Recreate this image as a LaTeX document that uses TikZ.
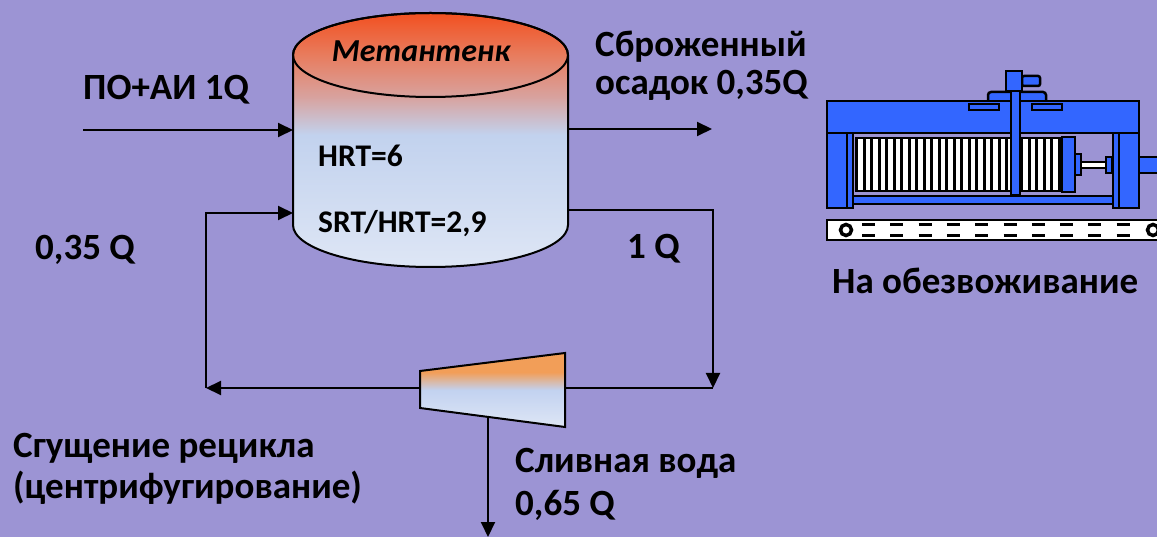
\documentclass[tikz,border=0pt]{standalone}
\usepackage{fontspec}
\setmainfont{Carlito}
\usetikzlibrary{arrows.meta}

\definecolor{bg}{RGB}{156,148,212}
\definecolor{pressblue}{RGB}{51,102,255}
\definecolor{tankA}{RGB}{242,80,32}
\definecolor{tankO}{RGB}{232,124,94}
\definecolor{tankP}{RGB}{216,162,158}
\definecolor{tankB}{RGB}{194,210,238}
\definecolor{tankC}{RGB}{222,230,245}
\definecolor{cenA}{RGB}{242,158,88}
\definecolor{cenB}{RGB}{194,210,240}
\definecolor{cenC}{RGB}{222,230,245}

% tank gradient: red-orange lid fading to pale blue body
\pgfdeclareverticalshading{tankshade}{100bp}{color(0bp)=(tankC); color(25bp)=(tankC); color(51bp)=(tankB); color(58.5bp)=(tankP); color(66.7bp)=(tankO); color(75bp)=(tankA); color(100bp)=(tankA)}
% centrifuge gradient: orange top, pale blue bottom
\pgfdeclareverticalshading{censhade}{100bp}{color(0bp)=(cenC); color(25bp)=(cenC); color(50bp)=(cenB); color(62bp)=(cenA); color(75bp)=(cenA); color(100bp)=(cenA)}

\tikzset{
  flow/.style={line width=2pt, -{Triangle[length=15pt,width=14pt]}},
  pipe/.style={line width=2pt},
  lbl/.style={font=\fontsize{37}{44}\selectfont\bfseries, inner sep=0pt, anchor=base west},
  tanktxt/.style={font=\fontsize{31.5}{36}\selectfont\bfseries, inner sep=0pt, anchor=base west},
  part/.style={fill=pressblue, draw=black, line width=2.5pt},
}

\begin{document}
\begin{tikzpicture}[x=1pt,y=-1pt]
\fill[bg] (0,0) rectangle (1157,537);
\useasboundingbox (0,0) rectangle (1157,537);

% ---------------- digester tank ----------------
\path[shading=tankshade, draw=black, line width=2pt]
  (293,55) -- (293,225) arc[start angle=180, end angle=0, x radius=137.5, y radius=42]
  -- (568,55) arc[start angle=0, end angle=-180, x radius=137.5, y radius=42] -- cycle;
\draw[line width=2pt] (430.5,55) ellipse[x radius=137.5, y radius=42];
\node[font=\fontsize{32}{36}\selectfont\bfseries\itshape, inner sep=0pt, anchor=base] (tankname) at (421,62) {Метантенк};
\node[tanktxt] (hrt) at (318,167) {HRT=6};
\node[tanktxt] (srt) at (318,233) {SRT/HRT=2,9};

\coordinate (tankFeed) at (293,130);
\coordinate (tankRet)  at (293,213);
\coordinate (tankOut)  at (568,129);
\coordinate (tankDraw) at (568,210);

% ---------------- centrifuge ----------------
\path[shading=censhade, draw=black, line width=2pt]
  (420,371) -- (565,353) -- (565,427) -- (420,408) -- cycle;
\coordinate (cenL) at (420,388);
\coordinate (cenR) at (565,388);
\coordinate (cenB) at (488,418);

% ---------------- flows ----------------
\coordinate (feedStart) at (83,130);
\coordinate (outEnd) at (712,129);
\coordinate (corner1) at (713,210);
\coordinate (corner2) at (713,388);
\coordinate (retCorner) at (206,388);
\coordinate (retTop) at (206,213);
\coordinate (drainEnd) at (488,537);

\draw[flow] (feedStart) -- (tankFeed);
\draw[flow] (tankOut) -- (outEnd);
\draw[flow] (tankDraw) -- (corner1) -- (corner2);
\draw[pipe] (cenR) -- (corner2);
\draw[flow] (cenL) -- (retCorner);
\draw[flow] (retCorner) -- (retTop) -- (tankRet);
\draw[flow] (cenB) -- (drainEnd);

% ---------------- labels ----------------
\node[lbl] (feed) at (83,100) {ПО+АИ 1Q};
\node[lbl] (dig1) at (595,57) {Сброженный};
\node[lbl] (dig2) at (595,95) {осадок 0,35Q};
\node[lbl] (recq) at (35,260) {0,35 Q};
\node[lbl] (oneq) at (627,259) {1 Q};
\node[lbl] (thick1) at (13,457) {Сгущение рецикла};
\node[lbl] (thick2) at (13,498) {(центрифугирование)};
\node[lbl] (drain1) at (515,472) {Сливная вода};
\node[lbl] (drain2) at (515,515) {0,65 Q};
\node[lbl] (dewater) at (832,294) {На обезвоживание};

% ---------------- filter press ----------------
% conveyor belt
\draw[fill=white, line width=2.5pt] (827,220) rectangle (1165,240);
\draw[line width=3.5pt] (846,230) circle[radius=5.5];
\draw[line width=3.5pt] (1153,230) circle[radius=5.5];
\foreach \i in {0,...,9}{
  \draw[line width=3pt] ({862+\i*28.3},224.5) -- ++(13,0);
  \draw[line width=3pt] ({862+\i*28.3},235.5) -- ++(13,0);
}
% bottom tie rail
\draw[part] (843,196) rectangle (1125,204);
% legs
\draw[part] (827,133) rectangle (847,208);
\draw[part] (847,133) rectangle (853,208);
\draw[part] (1119,133) rectangle (1139,208);
\draw[part] (1113,133) rectangle (1119,208);
% plate pack
\fill[black] (855,137) rectangle (1062,192);
\foreach \i in {0,...,26}{
  \fill[white] ({858+\i*7.5},139.5) rectangle ++(4.8,50.5);
}
\draw[part] (1062,137) rectangle (1075,192);
% hydraulic ram
\draw[part] (1075,154) rectangle (1081,175);
\draw[fill=white, line width=2pt] (1081,162) rectangle (1106,168);
\draw[part] (1106,157) rectangle (1112,173);
\draw[part] (1139,157) rectangle (1165,173);
% top beam and details
\draw[part, rounded corners=3pt] (988,104) -- (988,92) -- (1046,92) -- (1046,104);
\draw[part] (827,101) rectangle (1139,133);
\draw[part] (969,104) rectangle (999,110);
\draw[part] (1032,104) rectangle (1062,110);
\draw[part] (1011,91) rectangle (1020,195);
\draw[part, rounded corners=2pt] (1022,76) rectangle (1040,86);
\draw[part] (1006,71) rectangle (1022,91);
\end{tikzpicture}
\end{document}
